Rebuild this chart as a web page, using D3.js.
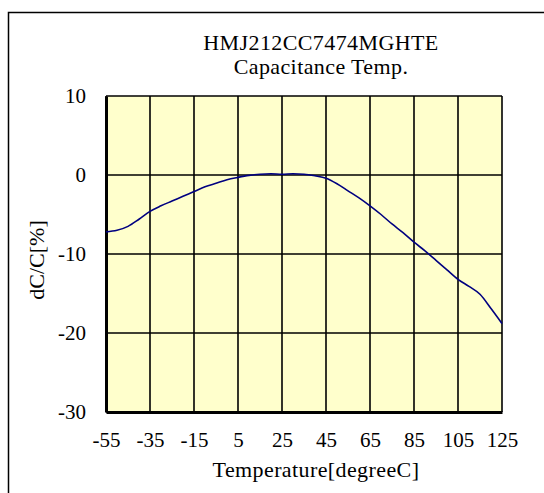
<!DOCTYPE html>
<html>
<head>
<meta charset="utf-8">
<script src="https://cdn.jsdelivr.net/npm/d3@7"></script>
<style>
  body{margin:0;background:#fff;}
</style>
</head>
<body>
<div id="chart"></div>
<script>
// values
let temps = [-55,-50,-45,-40,-35,-30,-25,-20,-15,-10,-5,0,5,10,15,20,25,30,35,40,45,50,55,60,65,70,75,80,85,90,95,100,105,110,115,120,125];
let dcc   = [-7.2,-7.0,-6.5,-5.6,-4.6,-3.9,-3.3,-2.7,-2.1,-1.5,-1.05,-0.6,-0.3,-0.05,0.1,0.15,0.1,0.15,0.1,-0.1,-0.4,-1.1,-2.0,-2.9,-3.9,-5.0,-6.2,-7.3,-8.5,-9.6,-10.8,-12.0,-13.2,-14.1,-15.1,-16.9,-18.8];
let xTicks = [-55,-35,-15,5,25,45,65,85,105,125];
let yTicks = [-30,-20,-10,0,10];
let titleLines = ["HMJ212CC7474MGHTE","Capacitance Temp."];

let font = "'Liberation Serif', 'Times New Roman', serif";
let margin = {top: 96, right: 42, bottom: 81, left: 106};
let W = 544, H = 493;
let w = W - margin.left - margin.right, h = H - margin.top - margin.bottom;

let svg = d3.select("#chart").append("svg")
            .attr("width", W)
            .attr("height", H)
            .style("font-family", font);

// outer frame (runs off the right / bottom edge)
svg.append("rect")
   .attr("x", 8.5).attr("y", 12.5)
   .attr("width", 600).attr("height", 600)
   .attr("fill", "none").attr("stroke", "#000").attr("stroke-width", 1.5);

let g = svg.append("g").attr("transform", "translate(" + margin.left + "," + margin.top + ")");

let x = d3.scaleLinear().domain([-55,125]).range([0,w]);
let y = d3.scaleLinear().domain([-30,10]).range([h,0]);

g.append("rect")
 .attr("width", w).attr("height", h)
 .attr("fill", "#ffffcc");

// grid
g.append("g").selectAll("line").data(xTicks).enter().append("line")
 .attr("x1", d=>x(d)).attr("x2", d=>x(d))
 .attr("y1", 0).attr("y2", h)
 .attr("stroke", "#000").attr("stroke-width", 1.6);
g.append("g").selectAll("line").data(yTicks).enter().append("line")
 .attr("x1", 0).attr("x2", w)
 .attr("y1", d=>y(d)).attr("y2", d=>y(d))
 .attr("stroke", "#000").attr("stroke-width", 1.4);

// axes (left + bottom heavier)
let xAxis = g.append("g").attr("transform", "translate(0," + h + ")")
 .call(d3.axisBottom(x).tickValues(xTicks).tickSize(0).tickFormat(d=>String(d)));
let yAxis = g.append("g")
 .call(d3.axisLeft(y).tickValues(yTicks).tickSize(0).tickPadding(20).tickFormat(d=>String(d)));
[xAxis, yAxis].forEach(a=>{
  a.attr("font-family", null).attr("font-size", null);
  a.select(".domain").attr("stroke", "#000").attr("stroke-width", 3);
  a.selectAll("text").style("font-size", "21px").style("font-family", font);
});
xAxis.selectAll("text").attr("dy", null).attr("y", 35);

// curve
let line = d3.line()
             .x((d,i)=>x(temps[i]))
             .y(d=>y(d))
             .curve(d3.curveMonotoneX);
g.append("path")
 .datum(dcc)
 .attr("d", line)
 .attr("fill", "none")
 .attr("stroke", "#000080")
 .attr("stroke-width", 1.6);

// titles
svg.selectAll(".ttl").data(titleLines).enter().append("text")
   .attr("class", "ttl")
   .attr("x", 321)
   .attr("y", (d,i)=>50 + i*24)
   .attr("text-anchor", "middle")
   .style("font-size", "22px")
   .style("letter-spacing", "0.4px")
   .text(d=>d);

svg.append("text")
   .attr("x", 316).attr("y", 477)
   .attr("text-anchor", "middle")
   .style("font-size", "22px")
   .style("letter-spacing", "0.4px")
   .text("Temperature[degreeC]");

svg.append("text")
   .attr("transform", "translate(44,260) rotate(-90)")
   .attr("text-anchor", "middle")
   .style("font-size", "22px")
   .text("dC/C[%]");
</script>
</body>
</html>
